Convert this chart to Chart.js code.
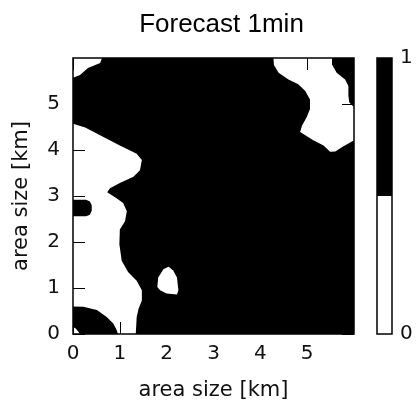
<!DOCTYPE html>
<html><head><meta charset="utf-8">
<script src="https://cdn.jsdelivr.net/npm/chart.js@4.4.1/dist/chart.umd.min.js"></script>
<style>html,body{margin:0;padding:0;background:#fff;overflow:hidden}canvas{display:block}</style>
</head><body>
<canvas id="c" width="417" height="403"></canvas>
<script>
// ---- texts & ticks ----
const titleText = 'Forecast 1min';
const xLabel = 'area size [km]';
const yLabel = 'area size [km]';
const xTicks = [0, 1, 2, 3, 4, 5];
const yTicks = [0, 1, 2, 3, 4, 5];
const extent = [0, 6];          // km, both axes
const cbTicks = [0, 1];
const cbLevels = [0, 0.5, 1];   // colour bar level bounds
const cbColors = ['#ffffff', '#000000']; // value 0 -> white, value 1 -> black

// ---- field: outlines (km) of value-1 and value-0 regions ----
const field1All = [[0,0],[6,0],[6,6],[0,6]];
const zeroTopLeft = [[0,6],[0.62,6],[0.58,5.89],[0.32,5.78],[0.15,5.63],[0,5.57]];
const zeroLeftStrip = [[0,4.57],[0.26,4.49],[0.65,4.28],[1.00,4.10],[1.36,3.92],[1.47,3.78],[1.43,3.56],
  [1.29,3.42],[1.00,3.28],[0.79,3.17],[0.73,3.08],[0.93,2.95],[1.07,2.85],[1.15,2.67],[1.11,2.45],
  [1.00,2.27],[0.99,1.95],[1.04,1.59],[1.18,1.34],[1.36,1.16],[1.47,0.95],[1.47,0.73],[1.40,0.55],
  [1.36,0.37],[1.34,0],[0.96,0],[0.93,0.09],[0.86,0.23],[0.72,0.37],[0.51,0.52],[0.22,0.59],[0,0.60]];
const zeroSmallBlob = [[2.04,1.46],[2.14,1.38],[2.22,1.23],[2.25,0.95],[2.22,0.86],[2.00,0.88],
  [1.86,0.95],[1.80,1.02],[1.82,1.23],[1.93,1.41]];
const zeroTopRight = [[4.28,6],[5.53,6],[5.53,5.86],[5.63,5.68],[5.81,5.53],[5.88,5.39],[5.88,5.18],
  [5.90,5.03],[5.98,4.95],[6,4.95],[6,4.21],[5.88,4.14],[5.74,4.06],[5.60,3.97],[5.49,3.96],
  [5.35,4.10],[5.13,4.21],[4.96,4.32],[4.85,4.39],[4.89,4.53],[4.99,4.71],[5.06,4.89],[5.06,5.10],
  [4.96,5.28],[4.81,5.43],[4.60,5.53],[4.39,5.68],[4.29,5.85]];
const oneLeftBlob = [[0,2.92],[0.28,2.92],[0.36,2.88],[0.40,2.80],[0.40,2.68],[0.36,2.59],[0.28,2.56],[0,2.56]];
const zeroCorner = [[0,0],[0.15,0],[0.06,0.12],[0,0.15]];

const toPts = a => a.map(([x, y]) => ({x, y}));
function region(pts, value, order) {
  return {
    data: toPts(pts), showLine: true, fill: 'shape',
    backgroundColor: cbColors[value], borderWidth: 0,
    pointRadius: 0, pointHoverRadius: 0, order,
    xAxisID: 'x', yAxisID: 'y'
  };
}

const tickFont = {family: 'DejaVu Sans', size: 20};
const labFont = {family: 'DejaVu Sans', size: 21};
const txtColor = '#111';

const decor = {
  id: 'decor',
  afterDatasetsDraw(chart) {
    const {ctx, chartArea: a, scales: {x, y, cb}} = chart;
    ctx.save();
    ctx.strokeStyle = '#000';
    ctx.lineWidth = 1;
    const L = 12;
    ctx.beginPath();
    xTicks.forEach(v => {
      const p = Math.round(x.getPixelForValue(v)) + 0.5;
      ctx.moveTo(p, a.bottom); ctx.lineTo(p, a.bottom - L);
      ctx.moveTo(p, a.top); ctx.lineTo(p, a.top + L);
    });
    yTicks.forEach(v => {
      const p = Math.round(y.getPixelForValue(v)) + 0.5;
      ctx.moveTo(a.left, p); ctx.lineTo(a.left + L, p);
      ctx.moveTo(a.right, p); ctx.lineTo(a.right - L, p);
    });
    ctx.stroke();
    ctx.lineWidth = 1.5;
    ctx.strokeRect(a.left, a.top, a.right - a.left, a.bottom - a.top);
    // colour bar
    const cx = cb.left + 23, cw = 15;
    for (let i = 0; i < cbColors.length; i++) {
      const y0 = cb.getPixelForValue(cbLevels[i]);
      const y1 = cb.getPixelForValue(cbLevels[i + 1]);
      ctx.fillStyle = cbColors[i];
      ctx.fillRect(cx, y1, cw, y0 - y1);
    }
    const top = cb.getPixelForValue(cbLevels[cbLevels.length - 1]);
    const bot = cb.getPixelForValue(cbLevels[0]);
    ctx.strokeRect(cx, top, cw, bot - top);
    ctx.restore();
  }
};

new Chart(document.getElementById('c'), {
  type: 'scatter',
  data: {
    datasets: [
      region(field1All, 1, 5),
      region(zeroTopLeft, 0, 4),
      region(zeroLeftStrip, 0, 4),
      region(zeroSmallBlob, 0, 4),
      region(zeroTopRight, 0, 4),
      region(oneLeftBlob, 1, 2),
      region(zeroCorner, 0, 1)
    ]
  },
  options: {
    responsive: false, animation: false, devicePixelRatio: 1,
    layout: {padding: {left: 26, right: 0, top: 0, bottom: 0}},
    plugins: {
      legend: {display: false}, tooltip: {enabled: false},
      title: {display: true, text: titleText, color: '#000',
        font: {family: 'Liberation Sans', size: 26, weight: 'normal'},
        padding: {top: 6, bottom: 17.8}}
    },
    scales: {
      x: {type: 'linear', position: 'bottom', min: extent[0], max: extent[1],
        grid: {display: false, drawTicks: false}, border: {display: false},
        ticks: {font: tickFont, color: txtColor, padding: 8, autoSkip: false, maxRotation: 0},
        afterBuildTicks: s => { s.ticks = xTicks.map(v => ({value: v})); },
        afterFit: s => { s.height = 69; },
        title: {display: true, text: xLabel, font: labFont, color: txtColor, padding: {top: 0, bottom: 0}}},
      y: {type: 'linear', position: 'left', min: extent[0], max: extent[1],
        grid: {display: false, drawTicks: false}, border: {display: false},
        ticks: {font: tickFont, color: txtColor, padding: 13, autoSkip: false},
        afterBuildTicks: s => { s.ticks = yTicks.map(v => ({value: v})); },
        afterFit: s => { s.width = 47; },
        title: {display: true, text: yLabel, font: labFont, color: txtColor, padding: {top: -16.6, bottom: 0}}},
      cb: {type: 'linear', axis: 'y', position: 'right', min: 0, max: 1,
        grid: {display: false, drawTicks: false}, border: {display: false},
        ticks: {font: tickFont, color: txtColor, padding: 46, autoSkip: false},
        afterBuildTicks: s => { s.ticks = cbTicks.map(v => ({value: v})); },
        afterFit: s => { s.width = 63; }}
    }
  },
  plugins: [decor]
});
</script>
</body></html>
